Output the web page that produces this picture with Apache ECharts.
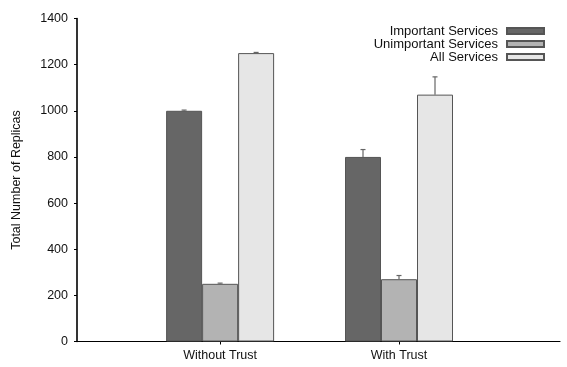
<!DOCTYPE html>
<html>
<head>
<meta charset="utf-8">
<script src="https://cdn.jsdelivr.net/npm/echarts@6/dist/echarts.min.js"></script>
<style>
  html, body { margin: 0; padding: 0; background: #fff; }
  #chart { width: 567px; height: 367px; }
</style>
</head>
<body>
<div id="chart"></div>
<script>
// data
var groups = ['Without Trust', 'With Trust']
var groupPos = [1, 2]
var seriesNames = ['Important Services', 'Unimportant Services', 'All Services']
var important = [1000, 800]
var unimportant = [250, 270]
var allServices = [1250, 1070]
var importantErr = [3, 32]
var unimportantErr = [3, 16]
var allErr = [3, 77]
var yTicks = [0, 200, 400, 600, 800, 1000, 1200, 1400]

var colors = ['#666666', '#b3b3b3', '#e6e6e6']
var barW = 36
var font = 'Liberation Sans, Arial, sans-serif'

var values = [important, unimportant, allServices]
var errors = [importantErr, unimportantErr, allErr]

var barSeries = seriesNames.map(function (name, i) {
  return {
    name: name,
    type: 'bar',
    barWidth: barW,
    barGap: '0%',
    itemStyle: { color: colors[i], borderColor: '#555', borderWidth: 1 },
    data: groupPos.map(function (x, j) { return [x, values[i][j]] }),
    z: 2
  }
})

var errData = []
values.forEach(function (vals, i) {
  vals.forEach(function (v, j) {
    errData.push([groupPos[j], v, errors[i][j], i])
  })
})

var errSeries = {
  type: 'custom',
  silent: true,
  z: 3,
  data: errData,
  renderItem: function (params, api) {
    var off = (api.value(3) - 1) * barW
    var base = api.coord([api.value(0), api.value(1)])
    var top = api.coord([api.value(0), api.value(1) + api.value(2)])
    var x = base[0] + off
    var style = { stroke: '#666', lineWidth: 1.2 }
    return {
      type: 'group',
      children: [
        { type: 'line', shape: { x1: x, y1: base[1], x2: x, y2: top[1] }, style: style },
        { type: 'line', shape: { x1: x - 2.5, y1: top[1], x2: x + 2.5, y2: top[1] }, style: style }
      ]
    }
  }
}

var option = {
  animation: false,
  grid: { left: 77, right: 7, top: 18.5, bottom: 25.5 },
  legend: {
    data: seriesNames.map(function (n) { return { name: n, icon: 'rect' } }),
    orient: 'vertical',
    right: 17,
    top: 19.5,
    align: 'right',
    itemWidth: 37,
    itemHeight: 6,
    itemGap: 0,
    selectedMode: false,
    textStyle: { fontFamily: font, fontSize: 13, color: '#111', lineHeight: 13, padding: [0, 4, 0, 0] }
  },
  xAxis: {
    type: 'value',
    min: 0.2,
    max: 2.9,
    splitLine: { show: false },
    axisLine: { lineStyle: { color: '#000', width: 1.2 } },
    axisTick: { customValues: groupPos, length: 3, lineStyle: { color: '#000' } },
    axisLabel: {
      customValues: groupPos,
      margin: 8,
      fontFamily: font,
      fontSize: 12.5,
      color: '#111',
      formatter: function (v) { return groups[groupPos.indexOf(v)] }
    }
  },
  yAxis: {
    type: 'value',
    min: yTicks[0],
    max: yTicks[yTicks.length - 1],
    interval: 200,
    name: 'Total Number of Replicas',
    nameLocation: 'middle',
    nameGap: 54,
    nameTextStyle: { fontFamily: font, fontSize: 12.5, color: '#111' },
    splitLine: { show: false },
    axisLine: { show: true, lineStyle: { color: '#000', width: 1.6 } },
    axisTick: { show: true, length: 3, lineStyle: { color: '#000' } },
    axisLabel: {
      margin: 9,
      fontFamily: font,
      fontSize: 12.5,
      color: '#111',
      formatter: function (v) { return String(v) }
    }
  },
  series: barSeries.concat([errSeries])
}

var chart = echarts.init(document.getElementById('chart'))
chart.setOption(option)
</script>
</body>
</html>
